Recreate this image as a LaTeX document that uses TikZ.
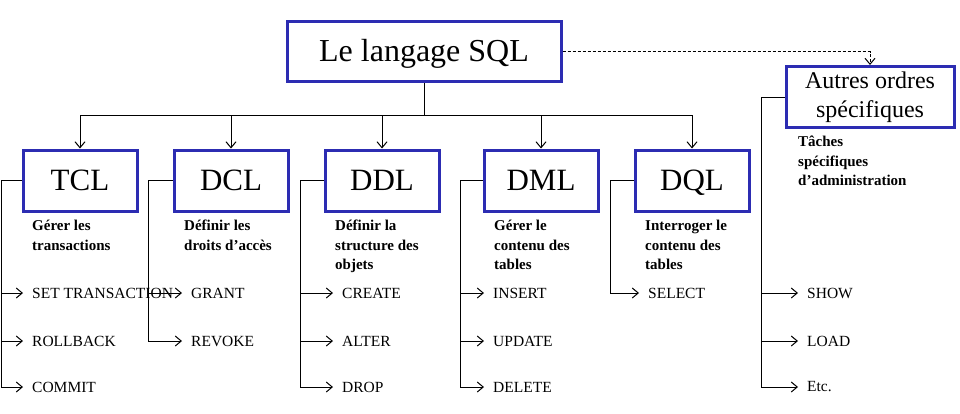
\documentclass[tikz,border=0pt]{standalone}
\usepackage{fontspec}
\setmainfont{Liberation Serif}
\usetikzlibrary{arrows.meta}
\definecolor{boxblue}{RGB}{44,44,178}

\begin{document}
\begin{tikzpicture}[x=1pt,y=-1pt]
  \tikzset{lang/.style = {draw=boxblue,line width=3pt,minimum width=114pt,minimum height=61pt,inner sep=0pt,text height=20.8pt,text depth=0pt,font=\fontsize{31}{34}\selectfont}}
  \tikzset{goal/.style = {anchor=north west,inner sep=0pt,align=left,font=\fontsize{15}{19.5}\selectfont\bfseries}}
  \tikzset{cmd/.style = {anchor=west,inner xsep=9pt,inner ysep=1pt,font=\fontsize{15.5}{18}\selectfont}}
  \tikzset{link/.style = {line width=1pt,-{Straight Barb[length=6pt,width=10pt]}}}

\useasboundingbox (0,0) rectangle (960,413);

\node[lang,minimum width=274pt,minimum height=60pt,font=\fontsize{32}{36}\selectfont] (sql) at (424,51.5) {Le langage SQL};
\node[draw=boxblue,line width=3pt,minimum width=168pt,minimum height=61pt,align=center,font=\fontsize{24}{29}\selectfont] (other) at (870,97) {Autres ordres\\spécifiques};

\node[lang] (tcl) at (80,180.5) {TCL};
\node[lang] (dcl) at (231,180.5) {DCL};
\node[lang] (ddl) at (382,180.5) {DDL};
\node[lang] (dml) at (541,180.5) {DML};
\node[lang] (dql) at (692,180.5) {DQL};

\node[goal] (tclgoal) at (32,220) {Gérer les\\transactions};
\node[goal] (dclgoal) at (184,220) {Définir les\\droits d’accès};
\node[goal] (ddlgoal) at (335,220) {Définir la\\structure des\\objets};
\node[goal] (dmlgoal) at (494,220) {Gérer le\\contenu des\\tables};
\node[goal] (dqlgoal) at (645,220) {Interroger le\\contenu des\\tables};
\node[goal] (othergoal) at (798,136) {Tâches\\spécifiques\\d’administration};

\node[cmd] (settrans) at (23,293) {SET TRANSACTION};
\node[cmd] (rollback) at (23,341) {ROLLBACK};
\node[cmd] (commit) at (23,387) {COMMIT};
\node[cmd] (grant) at (182,293) {GRANT};
\node[cmd] (revoke) at (182,341) {REVOKE};
\node[cmd] (create) at (333,293) {CREATE};
\node[cmd] (alter) at (333,341) {ALTER};
\node[cmd] (drop) at (333,387) {DROP};
\node[cmd] (insert) at (484,293) {INSERT};
\node[cmd] (update) at (484,341) {UPDATE};
\node[cmd] (delete) at (484,387) {DELETE};
\node[cmd] (select) at (639,293) {SELECT};
\node[cmd] (show) at (798,293) {SHOW};
\node[cmd] (load) at (798,341) {LOAD};
\node[cmd] (etc) at (798,387) {Etc.};

% tree below the main box
\coordinate (hub) at (424,115);
\draw[line width=1pt] (sql.south) -- (hub);
\draw[link] (hub) -| (tcl.north);
\draw[link] (hub) -| (dcl.north);
\draw[link] (hub) -| (ddl.north);
\draw[link] (hub) -| (dml.north);
\draw[link] (hub) -| (dql.north);
\draw[link,dash pattern=on 3pt off 2pt] (sql.east) -| (other.north);

% brackets
\draw[link] (tcl.west) -- ++(-20,0) |- (settrans.west);
\draw[link] (tcl.west) -- ++(-20,0) |- (rollback.west);
\draw[link] (tcl.west) -- ++(-20,0) |- (commit.west);

\draw[link] (dcl.west) -- ++(-24,0) |- (grant.west);
\draw[link] (dcl.west) -- ++(-24,0) |- (revoke.west);

\draw[link] (ddl.west) -- ++(-23,0) |- (create.west);
\draw[link] (ddl.west) -- ++(-23,0) |- (alter.west);
\draw[link] (ddl.west) -- ++(-23,0) |- (drop.west);

\draw[link] (dml.west) -- ++(-22,0) |- (insert.west);
\draw[link] (dml.west) -- ++(-22,0) |- (update.west);
\draw[link] (dml.west) -- ++(-22,0) |- (delete.west);

\draw[link] (dql.west) -- ++(-23,0) |- (select.west);

\draw[link] (other.west) -- ++(-23,0) |- (show.west);
\draw[link] (other.west) -- ++(-23,0) |- (load.west);
\draw[link] (other.west) -- ++(-23,0) |- (etc.west);

\end{tikzpicture}
\end{document}
